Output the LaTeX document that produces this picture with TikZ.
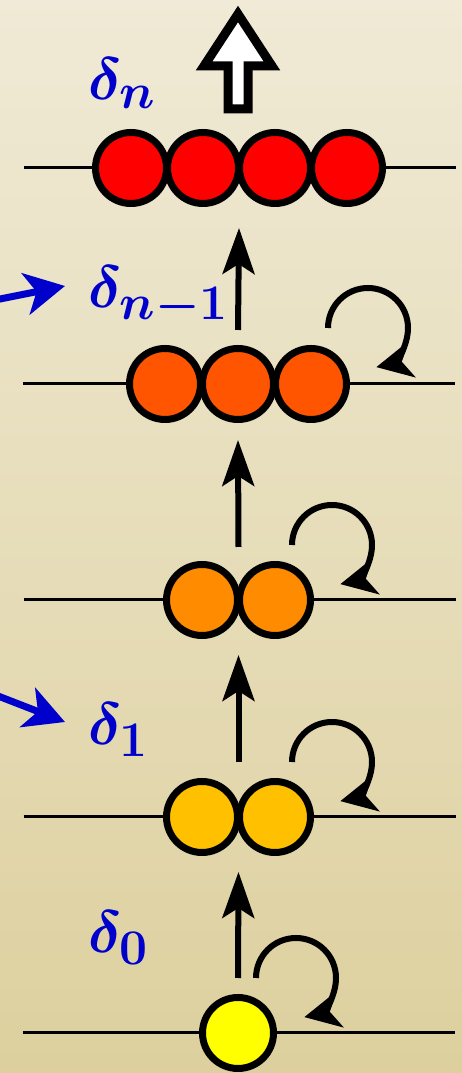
\documentclass[tikz,border=0pt]{standalone}
\usepackage{bm}
\usetikzlibrary{arrows.meta}
\definecolor{bgtop}{RGB}{240,234,214}
\definecolor{bgbot}{RGB}{221,208,158}
\definecolor{labelblue}{RGB}{0,0,204}
\definecolor{ballzero}{RGB}{255,255,0}
\definecolor{ballone}{RGB}{255,192,0}
\definecolor{balltwo}{RGB}{255,140,0}
\definecolor{ballthree}{RGB}{255,85,0}
\definecolor{ballfour}{RGB}{255,0,0}
\begin{document}
\begin{tikzpicture}[x=1pt, y=1pt, >={Stealth[length=46pt,width=32pt,inset=10pt]},
    ball/.style={circle, draw=black, line width=7pt, fill=#1, minimum size=71pt, inner sep=0pt},
    level/.style={line width=3pt},
    rise/.style={->, line width=6pt},
    turn/.style={-{Stealth[length=36pt,width=36pt,inset=10pt]}, line width=6pt},
    pointer/.style={-{Stealth[length=40pt,width=42pt,inset=11pt]}, labelblue, line width=7pt},
    lab/.style={labelblue, anchor=base west, inner sep=0pt, font=\Huge, scale=2.4}]
    \shade[top color=bgtop, bottom color=bgbot] (0,0) rectangle (462,1073);
    \clip (0,0) rectangle (462,1073);

    \coordinate (L0) at (238,40);
    \coordinate (L1) at (238.5,256);
    \coordinate (L2) at (238.5,473);
    \coordinate (L3) at (238,689);
    \coordinate (L4) at (239,905);

    \draw[level] ([xshift=-215pt]L0) -- ([xshift=217pt]L0);
    \draw[level] ([xshift=-215pt]L1) -- ([xshift=217pt]L1);
    \draw[level] ([xshift=-215pt]L2) -- ([xshift=217pt]L2);
    \draw[level] ([xshift=-215pt]L3) -- ([xshift=217pt]L3);
    \draw[level] ([xshift=-215pt]L4) -- ([xshift=217pt]L4);

    \node[ball=ballzero] (b01) at (L0) {};
    \node[ball=ballone] (b11) at ([xshift=-36.5pt]L1) {};
    \node[ball=ballone] (b12) at ([xshift=36.5pt]L1) {};
    \node[ball=balltwo] (b21) at ([xshift=-36.5pt]L2) {};
    \node[ball=balltwo] (b22) at ([xshift=36.5pt]L2) {};
    \node[ball=ballthree] (b31) at ([xshift=-73pt]L3) {};
    \node[ball=ballthree] (b32) at (L3) {};
    \node[ball=ballthree] (b33) at ([xshift=73pt]L3) {};
    \node[ball=ballfour] (b41) at ([xshift=-108pt]L4) {};
    \node[ball=ballfour] (b42) at ([xshift=-36pt]L4) {};
    \node[ball=ballfour] (b43) at ([xshift=36pt]L4) {};
    \node[ball=ballfour] (b44) at ([xshift=108pt]L4) {};

    % steps up
    \draw[rise] ([yshift=55pt]L0) -- ([yshift=-55pt]L1);
    \draw[rise] ([yshift=55pt]L1) -- ([yshift=-55pt]L2);
    \draw[rise] ([yshift=53pt]L2) -- ([yshift=-56pt]L3);
    \draw[rise] ([yshift=54pt]L3) -- ([yshift=-60pt]L4);

    % turns
    \draw[turn] ([shift={(18pt,55pt)}]b01.center) arc[start angle=180, end angle=-78, radius=40pt];
    \draw[turn] ([shift={(17pt,55pt)}]b12.center) arc[start angle=180, end angle=-78, radius=40pt];
    \draw[turn] ([shift={(17pt,55pt)}]b22.center) arc[start angle=180, end angle=-78, radius=40pt];
    \draw[turn] ([shift={(17pt,56pt)}]b33.center) arc[start angle=180, end angle=-78, radius=40pt];

    % open arrow on top
    \draw[line width=9pt, fill=white, line join=miter]
        (238,1059) -- (272,1007) -- (248,1007) -- (248,964) -- (228,964) -- (228,1007) -- (204,1007) -- cycle;

    \node[lab] (d0) at (88,120) {$\bm{\delta_{0}}$};
    \node[lab] (d1) at (88,328) {$\bm{\delta_{1}}$};
    \node[lab] (dm) at (88,765) {$\bm{\delta_{n-1}}$};
    \node[lab] (dn) at (88,973) {$\bm{\delta_{n}}$};

    \coordinate (pa) at (-20,770);
    \coordinate (pb) at (-20,384);
    \draw[pointer] (pa) -- ([shift={(-23pt,22pt)}]dm.base west);
    \draw[pointer] (pb) -- ([shift={(-23pt,23pt)}]d1.base west);
\end{tikzpicture}
\end{document}
